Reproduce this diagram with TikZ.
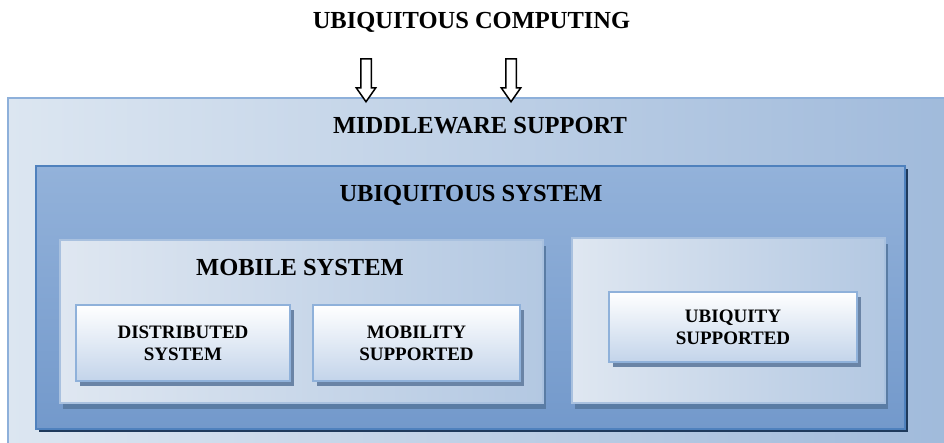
\documentclass[tikz,border=0pt]{standalone}
\usepackage{fontspec}
\setmainfont{Liberation Serif}
\usetikzlibrary{shadows,shapes.arrows}
\definecolor{outerL}{HTML}{DCE6F1}
\definecolor{outerR}{HTML}{A0BADB}
\definecolor{outerB}{HTML}{8EB0DA}
\definecolor{sysT}{HTML}{93B2DA}
\definecolor{sysM}{HTML}{7399CB}
\definecolor{sysB}{HTML}{4F81BD}
\definecolor{sysS}{HTML}{1F3A5C}
\definecolor{midL}{HTML}{DFE7F1}
\definecolor{midR}{HTML}{B3C8E2}
\definecolor{midB}{HTML}{A9C1DF}
\definecolor{midS}{HTML}{5A7CA4}
\definecolor{smlT}{HTML}{FFFFFF}
\definecolor{smlB}{HTML}{C3D4EA}
\definecolor{smlD}{HTML}{8FB1DA}
\definecolor{smlS}{HTML}{6A84A6}
\tikzset{
  every node/.style={font=\bfseries},
  boxbase/.style={anchor=north west, inner sep=0pt, outer sep=0pt},
  outerbox/.style={boxbase, draw=outerB, line width=2pt, left color=outerL, right color=outerR},
  sysbox/.style={boxbase, draw=sysB, line width=2pt, top color=sysT, bottom color=sysM,
     drop shadow={shadow xshift=3pt, shadow yshift=-3pt, fill=sysS, opacity=1}},
  midbox/.style={boxbase, draw=midB, line width=1.5pt, left color=midL, right color=midR,
     drop shadow={shadow xshift=3pt, shadow yshift=-6pt, fill=midS, opacity=1}},
  smallbox/.style={boxbase, draw=smlD, line width=1.5pt, top color=smlT, bottom color=smlB,
     drop shadow={shadow xshift=3.5pt, shadow yshift=-4.5pt, fill=smlS, opacity=1}},
  bigtext/.style={font=\bfseries\fontsize{24.5}{28}\selectfont, inner sep=0pt},
  smalltext/.style={font=\bfseries\fontsize{19}{22}\selectfont, align=center, inner sep=0pt},
  downarrow/.style={single arrow, draw=black, fill=white, line width=1.5pt, shape border rotate=270,
     minimum height=43pt, minimum width=18pt, inner sep=4.5pt, single arrow head extend=4.5pt,
     single arrow tip angle=70},
}
\begin{document}
\begin{tikzpicture}[x=1pt,y=-1pt]
\useasboundingbox (0,0) rectangle (944,442);
\fill[white] (0,0) rectangle (944,442);
% boxes
\node[outerbox, minimum width=945pt, minimum height=350pt] (mw) at (8,98) {};
\node[sysbox, minimum width=869pt, minimum height=263pt] (us) at (36,166) {};
\node[midbox, minimum width=483pt, minimum height=163pt] (ms) at (60,240) {};
\node[midbox, minimum width=313pt, minimum height=165pt] (rs) at (572,238) {};
\node[smallbox, minimum width=214pt, minimum height=76pt] (ds) at (76,305) {};
\node[smallbox, minimum width=207pt, minimum height=76pt] (mo) at (313,305) {};
\node[smallbox, minimum width=248pt, minimum height=70pt] (ub) at (609,292) {};
% texts
\node[bigtext] (title) at (471.5,22) {UBIQUITOUS COMPUTING};
\node[bigtext] (mwt) at (480,126) {MIDDLEWARE SUPPORT};
\node[bigtext] (ust) at (471,195) {UBIQUITOUS SYSTEM};
\node[bigtext] (mst) at (300,268) {MOBILE SYSTEM};
\node[smalltext] (dst) at (ds.center) {DISTRIBUTED\\SYSTEM};
\node[smalltext] (mot) at (mo.center) {MOBILITY\\SUPPORTED};
\node[smalltext] (ubt) at (ub.center) {UBIQUITY\\SUPPORTED};
% arrows
\coordinate (a1) at (366,76.5);
\coordinate (a2) at (511,76.5);
\node[downarrow] (arr1) at (a1) {};
\node[downarrow] (arr2) at (a2) {};
\end{tikzpicture}
\end{document}
